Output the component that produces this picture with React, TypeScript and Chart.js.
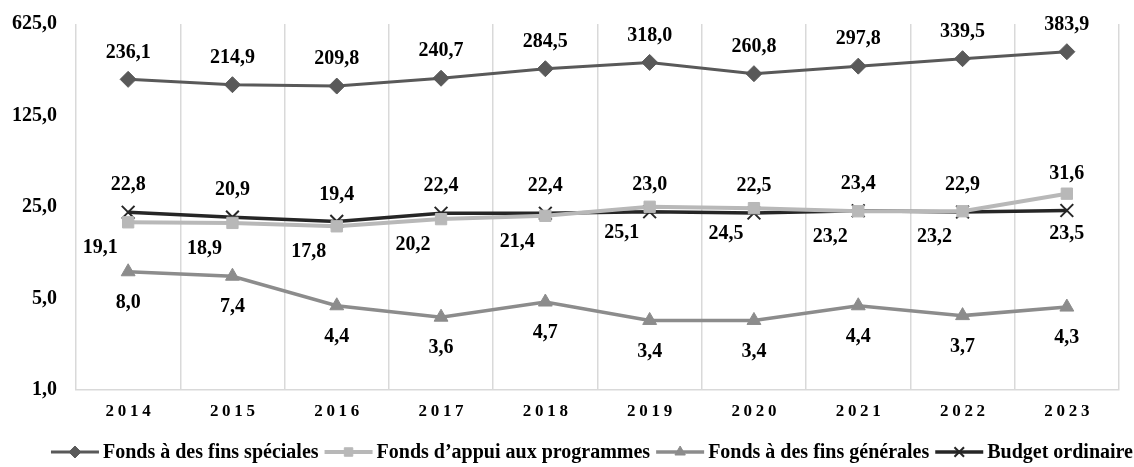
import React, { useEffect, useRef } from 'react';
import { Chart, registerables } from 'chart.js';
import { drawPoint } from 'chart.js/helpers';

Chart.register(...registerables);

// Budget evolution by fund type (log scale, base 5)
const years = ['2014', '2015', '2016', '2017', '2018', '2019', '2020', '2021', '2022', '2023'];
const fondsSpeciales = [236.1, 214.9, 209.8, 240.7, 284.5, 318.0, 260.8, 297.8, 339.5, 383.9];
const fondsAppui = [19.1, 18.9, 17.8, 20.2, 21.4, 25.1, 24.5, 23.2, 23.2, 31.6];
const fondsGenerales = [8.0, 7.4, 4.4, 3.6, 4.7, 3.4, 3.4, 4.4, 3.7, 4.3];
const budgetOrdinaire = [22.8, 20.9, 19.4, 22.4, 22.4, 23.0, 22.5, 23.4, 22.9, 23.5];
const yTicks = [1, 5, 25, 125, 625];

const seriesNames = [
  'Fonds à des fins spéciales',
  'Fonds d’appui aux programmes',
  'Fonds à des fins générales',
  'Budget ordinaire',
];

const FONT = '"Liberation Serif", "Times New Roman", serif';
const fmt = (v: number) => v.toFixed(1).replace('.', ',');

// label placement relative to each point
const OFFSETS: Record<string, [number, number]> = {
  above: [0, -27],
  aboveNear: [0, -20],
  below: [0, 31],
  belowNear: [0, 23],
  belowLeft: [-28, 26],
};

const rep = (p: string, n = 10) => Array.from({ length: n }, () => p);

const valueLabels = {
  id: 'valueLabels',
  afterDatasetsDraw(chart: any) {
    const ctx = chart.ctx as CanvasRenderingContext2D;
    ctx.save();
    ctx.font = `bold 20px ${FONT}`;
    ctx.fillStyle = '#000';
    ctx.textAlign = 'center';
    ctx.textBaseline = 'middle';
    chart.data.datasets.forEach((ds: any, i: number) => {
      const meta = chart.getDatasetMeta(i);
      meta.data.forEach((pt: any, j: number) => {
        const [dx, dy] = OFFSETS[ds.labelPlace[j]];
        ctx.fillText(fmt(ds.data[j]), pt.x + dx, pt.y + dy);
      });
    });
    ctx.restore();
  },
};

const axisAndLegend = {
  id: 'axisAndLegend',
  afterDraw(chart: any) {
    const ctx = chart.ctx as CanvasRenderingContext2D;
    const xScale = chart.scales.x;
    // spaced year labels
    ctx.save();
    ctx.font = `bold 17px ${FONT}`;
    ctx.fillStyle = '#000';
    ctx.textAlign = 'center';
    ctx.textBaseline = 'middle';
    const ls = 3.7;
    (ctx as any).letterSpacing = `${ls}px`;
    chart.data.labels.forEach((lab: string, i: number) => {
      ctx.fillText(lab, xScale.getPixelForValue(i) + ls / 2, 412);
    });
    (ctx as any).letterSpacing = '0px';
    ctx.restore();

    // legend: line + marker, then name
    ctx.save();
    ctx.font = `bold 20px ${FONT}`;
    ctx.textBaseline = 'middle';
    ctx.textAlign = 'left';
    const symW = 48;
    const gapIn = 4;
    const gapOut = 6;
    const items = chart.data.datasets.map((ds: any) => ({ ds, w: ctx.measureText(ds.label).width }));
    const total = items.reduce((s: number, it: any) => s + symW + gapIn + it.w, 0) + gapOut * (items.length - 1);
    let x = chart.width - 1 - total;
    const y = 452;
    items.forEach((it: any) => {
      const ds = it.ds;
      ctx.strokeStyle = ds.borderColor;
      ctx.fillStyle = ds.pointBackgroundColor;
      ctx.lineWidth = ds.borderWidth;
      ctx.beginPath();
      ctx.moveTo(x, y);
      ctx.lineTo(x + symW, y);
      ctx.stroke();
      ctx.lineWidth = ds.pointBorderWidth;
      drawPoint(ctx, {
        pointStyle: ds.pointStyle,
        radius: ds.pointRadius * 0.75,
        rotation: 0,
        borderWidth: ds.pointBorderWidth,
      } as any, x + symW / 2, y);
      ctx.fillStyle = '#000';
      ctx.fillText(ds.label, x + symW + gapIn, y + 1);
      x += symW + gapIn + it.w + gapOut;
    });
    ctx.restore();
  },
};

function seriesColor(color: string) {
  return { pointBackgroundColor: color, pointBorderColor: color, borderColor: color, backgroundColor: color };
}

export default function App() {
  const ref = useRef<HTMLCanvasElement | null>(null);

  useEffect(() => {
    document.body.style.margin = '0';
    const canvas = ref.current!;
    const chart = new Chart(canvas, {
      type: 'line',
      data: {
        labels: years,
        datasets: [
          {
            label: seriesNames[0],
            data: fondsSpeciales,
            ...seriesColor('#595959'),
            borderWidth: 3,
            pointStyle: 'rectRot',
            pointRadius: 8,
            pointBorderWidth: 1,
            labelPlace: rep('above'),
          } as any,
          {
            label: seriesNames[1],
            data: fondsAppui,
            ...seriesColor('#b8b8b8'),
            borderWidth: 4,
            pointStyle: 'rect',
            pointRadius: 8,
            pointBorderWidth: 1,
            labelPlace: [...rep('belowLeft', 9), 'aboveNear'],
          } as any,
          {
            label: seriesNames[2],
            data: fondsGenerales,
            ...seriesColor('#8c8c8c'),
            borderWidth: 3.5,
            pointStyle: 'triangle',
            pointRadius: 8,
            pointBorderWidth: 1,
            labelPlace: rep('below'),
          } as any,
          {
            label: seriesNames[3],
            data: budgetOrdinaire,
            ...seriesColor('#262626'),
            borderWidth: 3.5,
            pointStyle: 'crossRot',
            pointRadius: 9,
            pointBorderWidth: 2,
            labelPlace: [...rep('above', 9), 'belowNear'],
          } as any,
        ],
      },
      options: {
        responsive: false,
        animation: false,
        devicePixelRatio: 1,
        layout: { padding: { top: 24, right: 15, bottom: 77, left: 0 } },
        plugins: {
          legend: { display: false },
          tooltip: { enabled: false },
        },
        elements: { line: { tension: 0 } },
        scales: {
          x: {
            offset: true,
            grid: { offset: true, color: '#d9d9d9', lineWidth: 1.5, drawTicks: false },
            border: { display: true, color: '#d9d9d9', width: 1.5 },
            ticks: { display: false },
          },
          y: {
            type: 'logarithmic',
            min: 1,
            max: 625,
            afterBuildTicks: (scale: any) => {
              scale.ticks = yTicks.map((v) => ({ value: v }));
            },
            afterFit: (scale: any) => {
              scale.width = 76;
              // tick padding is horizontal only; keep the plot top free
              scale.paddingTop = 0;
              scale.paddingBottom = 0;
            },
            grid: { display: false, drawTicks: false },
            border: { display: false },
            ticks: {
              padding: 19,
              color: '#000',
              font: { family: FONT, size: 20, weight: 'bold' },
              callback: (v: any) => fmt(Number(v)),
            },
          },
        },
      },
      plugins: [valueLabels, axisAndLegend],
    });
    return () => chart.destroy();
  }, []);

  return <canvas ref={ref} width={1134} height={467} style={{ display: 'block' }} />;
}
